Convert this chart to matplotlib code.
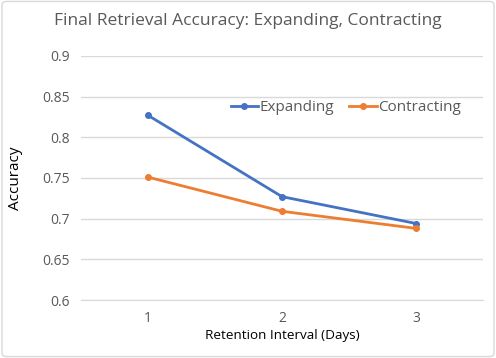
import matplotlib
matplotlib.use("Agg")
import matplotlib.pyplot as plt
from matplotlib.patches import FancyBboxPatch

# data
days = [1, 2, 3]
expanding = [0.827, 0.727, 0.694]
contracting = [0.751, 0.709, 0.688]

blue = "#4472C4"
orange = "#ED7D31"
grey_text = "#595959"

plt.rcParams["font.family"] = ["Open Sans", "DejaVu Sans"]

fig = plt.figure(figsize=(4.96, 3.58), dpi=100)
ax = fig.add_axes([0.163, 0.162, 0.811, 0.682])

# figure frame
fig.patches.append(FancyBboxPatch((0.004, 0.004), 0.992, 0.992,
                                  boxstyle="round,pad=0,rounding_size=0.01",
                                  transform=fig.transFigure, fill=False,
                                  edgecolor="#D9D9D9", linewidth=1))

ax.plot(days, expanding, color=blue, linewidth=2, marker="o", markersize=4,
        label="Expanding")
ax.plot(days, contracting, color=orange, linewidth=2, marker="o", markersize=4,
        label="Contracting")

ax.set_xlim(0.5, 3.5)
ax.set_ylim(0.6, 0.9)
ax.set_xticks(days)
ax.set_yticks([0.6, 0.65, 0.7, 0.75, 0.8, 0.85, 0.9])
ax.set_yticklabels(["0.6", "0.65", "0.7", "0.75", "0.8", "0.85", "0.9"])

ax.grid(axis="y", color="#D9D9D9", linewidth=1)
ax.set_axisbelow(True)
for pos in ["top", "right", "left"]:
    ax.spines[pos].set_visible(False)
ax.spines["bottom"].set_color("#D9D9D9")
ax.tick_params(axis="both", length=0, labelsize=10, colors=grey_text, pad=8)

ax.set_xlabel("Retention Interval (Days)", fontsize=9.7, color="black", labelpad=2)
ax.set_ylabel("Accuracy", fontsize=11, color="black", labelpad=14)

fig.suptitle("Final Retrieval Accuracy: Expanding, Contracting",
             fontsize=12.5, color=grey_text, y=0.965)

ax.legend(loc="center right", bbox_to_anchor=(0.965, 0.787), ncol=2, frameon=False,
          fontsize=11, labelcolor=grey_text, handlelength=1.8, handletextpad=0.1,
          columnspacing=1.0, borderpad=0)

fig.savefig("out.png", dpi=100)
